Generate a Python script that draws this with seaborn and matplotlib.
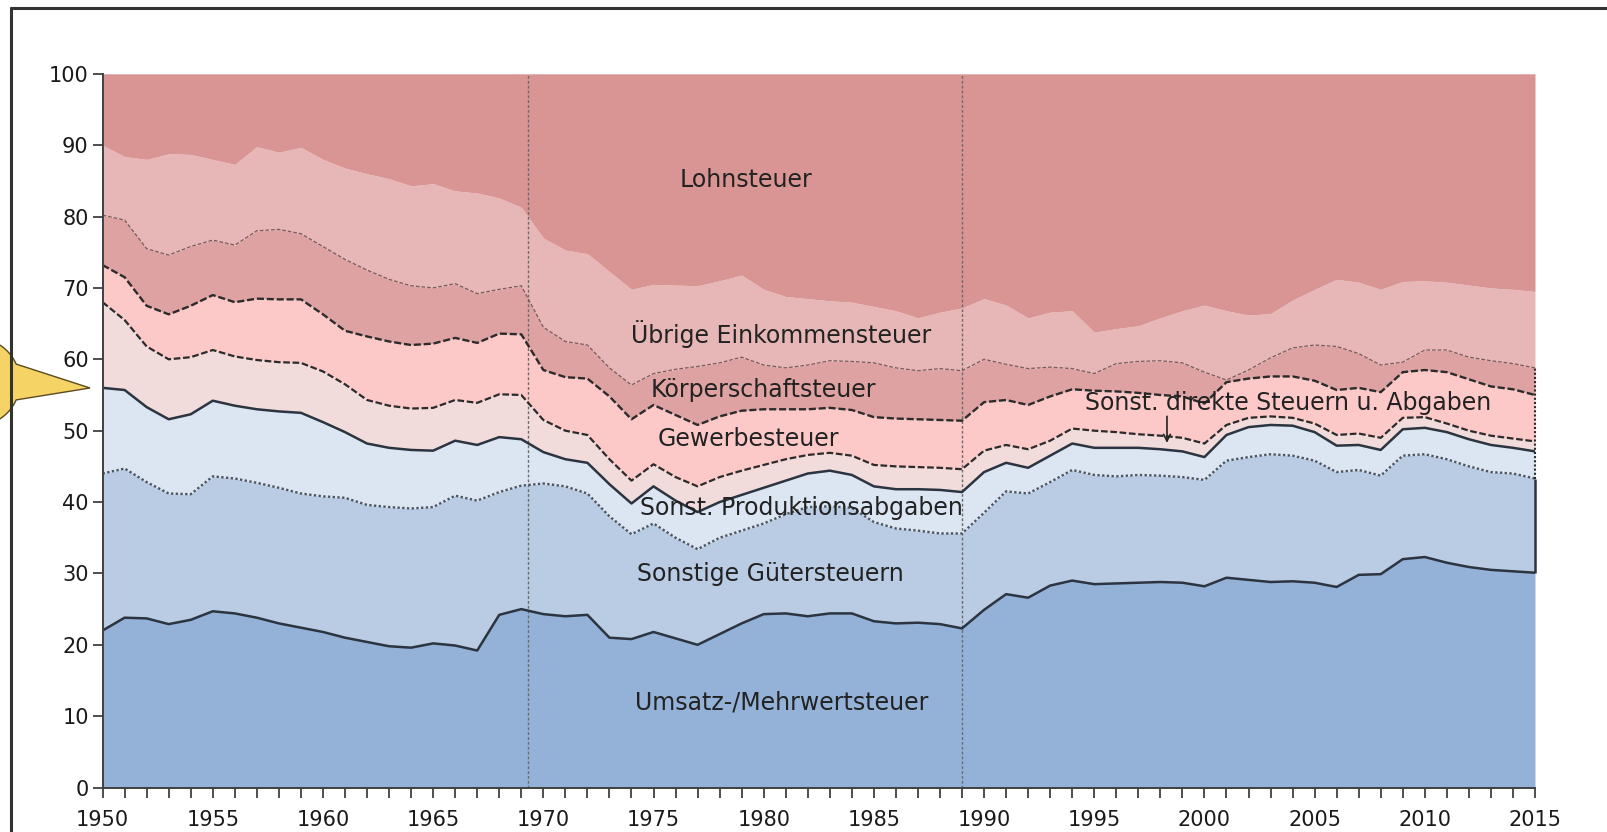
import numpy as np
import pandas as pd
import matplotlib
matplotlib.use('Agg')
import matplotlib.pyplot as plt
import matplotlib.patches as mpatches
import seaborn as sns

# Jahre und kumulierte Anteile (Oberkante jeder Schicht, in %)
jahre = list(range(1950, 2016))

umsatz_top = [22.0, 23.8, 23.7, 22.9, 23.5, 24.7, 24.4, 23.8, 23.0, 22.4,
              21.8, 21.0, 20.4, 19.8, 19.6, 20.2, 19.9, 19.2, 24.2, 25.0,
              24.3, 24.0, 24.2, 21.0, 20.8, 21.8, 20.9, 20.0, 21.5, 23.0,
              24.3, 24.4, 24.0, 24.4, 24.4, 23.3, 23.0, 23.1, 22.9, 22.3,
              24.9, 27.1, 26.6, 28.3, 29.0, 28.5, 28.6, 28.7, 28.8, 28.7,
              28.2, 29.4, 29.1, 28.8, 28.9, 28.7, 28.1, 29.8, 29.9, 32.0,
              32.3, 31.5, 30.9, 30.5, 30.3, 30.1]
gueter_top = [44.0, 44.7, 42.8, 41.2, 41.1, 43.6, 43.3, 42.7, 42.0, 41.2,
              40.8, 40.6, 39.6, 39.3, 39.1, 39.3, 40.9, 40.2, 41.4, 42.3,
              42.6, 42.2, 41.2, 38.0, 35.5, 37.0, 35.0, 33.4, 35.0, 36.0,
              37.0, 38.3, 39.3, 39.4, 39.2, 37.2, 36.3, 36.0, 35.6, 35.6,
              38.5, 41.5, 41.2, 42.8, 44.5, 43.8, 43.6, 43.8, 43.7, 43.5,
              43.1, 45.8, 46.3, 46.7, 46.5, 45.8, 44.2, 44.5, 43.7, 46.5,
              46.7, 46.0, 45.0, 44.2, 44.0, 43.3]
prod_top = [56.0, 55.7, 53.3, 51.6, 52.3, 54.2, 53.5, 53.0, 52.7, 52.5,
            51.2, 49.8, 48.2, 47.6, 47.3, 47.2, 48.6, 48.0, 49.1, 48.8,
            47.0, 46.0, 45.5, 42.5, 39.8, 42.2, 40.2, 38.6, 40.0, 41.0,
            42.0, 43.0, 44.0, 44.4, 43.8, 42.2, 41.8, 41.8, 41.7, 41.4,
            44.2, 45.5, 44.8, 46.5, 48.2, 47.6, 47.6, 47.6, 47.4, 47.1,
            46.3, 49.4, 50.5, 50.8, 50.7, 49.8, 47.9, 48.0, 47.3, 50.2,
            50.4, 49.8, 48.8, 48.0, 47.6, 47.1]
direkt_top = [68.0, 65.5, 61.8, 60.0, 60.3, 61.3, 60.4, 59.9, 59.6, 59.5,
              58.3, 56.5, 54.3, 53.5, 53.1, 53.2, 54.3, 53.9, 55.1, 55.0,
              51.5, 50.0, 49.4, 46.0, 43.0, 45.3, 43.5, 42.2, 43.5, 44.4,
              45.2, 46.0, 46.6, 46.9, 46.5, 45.2, 45.0, 44.9, 44.8, 44.6,
              47.2, 48.0, 47.4, 48.6, 50.3, 50.0, 49.8, 49.5, 49.3, 49.0,
              48.2, 50.8, 51.8, 52.0, 51.8, 51.0, 49.4, 49.6, 49.0, 51.8,
              51.9, 51.0, 50.0, 49.3, 48.9, 48.5]
gewerbe_top = [73.2, 71.5, 67.5, 66.3, 67.5, 69.0, 68.0, 68.5, 68.4, 68.4,
               66.3, 64.0, 63.2, 62.5, 62.0, 62.2, 63.0, 62.3, 63.6, 63.5,
               58.5, 57.5, 57.3, 54.8, 51.6, 53.6, 52.2, 50.8, 52.0, 52.8,
               53.0, 53.0, 53.0, 53.2, 52.9, 51.9, 51.7, 51.6, 51.5, 51.4,
               54.0, 54.3, 53.6, 54.8, 55.8, 55.6, 55.5, 55.3, 55.0, 54.8,
               53.8, 56.8, 57.3, 57.6, 57.6, 57.0, 55.7, 56.0, 55.4, 58.2,
               58.5, 58.2, 57.2, 56.2, 55.8, 55.0]
koerp_top = [80.2, 79.5, 75.5, 74.6, 75.8, 76.7, 76.0, 78.0, 78.2, 77.6,
             75.8, 74.0, 72.5, 71.2, 70.3, 70.0, 70.6, 69.2, 69.8, 70.3,
             64.5, 62.5, 62.0, 58.8, 56.4, 58.0, 58.6, 59.0, 59.5, 60.3,
             59.2, 58.8, 59.2, 59.8, 59.7, 59.5, 58.8, 58.4, 58.7, 58.4,
             60.0, 59.3, 58.7, 58.9, 58.7, 58.0, 59.4, 59.7, 59.8, 59.5,
             58.2, 57.1, 58.5, 60.2, 61.6, 62.0, 61.8, 60.8, 59.2, 59.6,
             61.3, 61.3, 60.3, 59.8, 59.4, 58.8]
uebrige_top = [90.0, 88.4, 88.0, 88.8, 88.7, 88.0, 87.3, 89.8, 89.0, 89.7,
               88.0, 86.8, 86.0, 85.3, 84.3, 84.6, 83.6, 83.3, 82.6, 81.3,
               77.0, 75.3, 74.8, 72.3, 69.8, 70.5, 70.4, 70.3, 71.0, 71.8,
               69.8, 68.8, 68.5, 68.2, 68.0, 67.4, 66.8, 65.8, 66.6, 67.2,
               68.5, 67.6, 65.8, 66.6, 66.8, 63.8, 64.3, 64.7, 65.8, 66.8,
               67.6, 66.8, 66.2, 66.4, 68.3, 69.8, 71.2, 70.8, 69.8, 70.9,
               71.0, 70.8, 70.4, 70.0, 69.8, 69.5]
lohn_top = [100.0] * len(jahre)

df = pd.DataFrame({'jahr': jahre, 'umsatz': umsatz_top, 'gueter': gueter_top,
                   'prod': prod_top, 'direkt': direkt_top, 'gewerbe': gewerbe_top,
                   'koerp': koerp_top, 'uebrige': uebrige_top, 'lohn': lohn_top})

schichten = ['umsatz', 'gueter', 'prod', 'direkt', 'gewerbe', 'koerp', 'uebrige', 'lohn']
farben = ['#94b2d7', '#b9cce4', '#dce6f2', '#f2dcdb', '#fcc8c8', '#dfa2a2', '#e6b7b6', '#d99594']

# Linien an den Oberkanten: (farbe, stil, breite)
linien = {
    'umsatz': ('#2b3440', '-', 1.8),
    'gueter': ('#4d5560', (0, (1, 1)), 1.7),
    'prod': ('#2b3440', '-', 1.8),
    'direkt': ('#2b2b2b', (0, (3, 1.2)), 1.6),
    'gewerbe': ('#2b2b2b', (0, (3, 1.2)), 1.7),
    'koerp': ('#7a5a5a', (0, (3, 1.5)), 0.9),
}

sns.set_theme(style='white')
plt.rcParams['font.family'] = ['DejaVu Sans']

fig = plt.figure(figsize=(16.08, 8.32), dpi=100)
ax = fig.add_axes([0.0638, 0.0534, 0.8908, 0.8579])

unten = np.zeros(len(jahre))
for name, farbe in zip(schichten, farben):
    oben = df[name].values
    ax.fill_between(df['jahr'], unten, oben, color=farbe, lw=0, zorder=1)
    unten = oben

for name, (c, ls, lw) in linien.items():
    sns.lineplot(data=df, x='jahr', y=name, ax=ax, color=c, linestyle=ls, lw=lw, zorder=3)

# Abschluss am rechten Rand
ax.vlines(2015, umsatz_top[-1], gueter_top[-1], color='#2b3440', lw=1.8, zorder=4, clip_on=False)
ax.vlines(2015, gueter_top[-1], koerp_top[-1], color='#2b2b2b', lw=1.5,
          linestyle=(0, (1, 1)), zorder=4, clip_on=False)

# Strukturbrueche
for xb in [1969.3, 1989.0]:
    ax.axvline(xb, color='#6b6b6b', lw=1.0, linestyle=(0, (2, 1.5)), zorder=2)

ax.set_xlim(1950, 2015)
ax.set_ylim(0, 100)
ax.set_xlabel('')
ax.set_ylabel('')
ax.set_xticks(range(1950, 2016, 5))
ax.set_xticks(range(1950, 2016), minor=True)
ax.set_yticks(range(0, 101, 10))
ax.tick_params(axis='both', which='both', direction='out', length=7, width=1.3,
               color='#404040', labelsize=15, labelcolor='#1a1a1a')
ax.tick_params(axis='x', which='both', bottom=True, pad=9)
ax.tick_params(axis='y', left=True, pad=3)
for s in ['top', 'right']:
    ax.spines[s].set_visible(False)
for s in ['left', 'bottom']:
    ax.spines[s].set_color('#404040')
    ax.spines[s].set_linewidth(1.4)
    ax.spines[s].set_zorder(5)

# Beschriftungen
txt = dict(ha='center', va='center', fontsize=17, color='#222222', zorder=6)
ax.text(1979.2, 85.1, 'Lohnsteuer', **txt)
ax.text(1980.8, 63.5, 'Übrige Einkommensteuer', **txt)
ax.text(1980.0, 55.7, 'Körperschaftsteuer', **txt)
ax.text(1979.3, 48.9, 'Gewerbesteuer', **txt)
ax.text(1981.7, 39.2, 'Sonst. Produktionsabgaben', **txt)
ax.text(1980.3, 29.9, 'Sonstige Gütersteuern', **txt)
ax.text(1980.8, 11.9, 'Umsatz-/Mehrwertsteuer', **txt)
ax.text(2003.8, 53.9, 'Sonst. direkte Steuern u. Abgaben', **txt)
ax.annotate('', xy=(1998.3, 47.9), xytext=(1998.3, 52.4),
            arrowprops=dict(arrowstyle='->', color='#222222', lw=1.2), zorder=6)

# gelber Zeiger am linken Rand: Blase + Spitze als ein Umriss
W, H = 1608, 832
cx, cy, r = -24, 382, 44
pts = []
for t in np.linspace(np.radians(150), np.radians(24), 30):
    pts.append((cx + r * np.cos(t), cy - r * np.sin(t)))
pts.append((90, 388))
for t in np.linspace(np.radians(-24), np.radians(-150), 30):
    pts.append((cx + r * np.cos(t), cy - r * np.sin(t)))
pts_fig = [(x / W, 1 - y / H) for x, y in pts]
zeiger = mpatches.Polygon(pts_fig, closed=True, transform=fig.transFigure,
                          facecolor='#f6d365', edgecolor='#5a4a20', lw=1.0, zorder=10)
fig.patches.append(zeiger)

# Rahmen
fig.add_artist(plt.Line2D([11 / W, 11 / W], [0, 1 - 8 / H], transform=fig.transFigure,
                          color='#333333', lw=2.2, zorder=11))
fig.add_artist(plt.Line2D([11 / W, 1], [1 - 8 / H, 1 - 8 / H], transform=fig.transFigure,
                          color='#333333', lw=2.2, zorder=11))

fig.savefig('out.png', dpi=100)
